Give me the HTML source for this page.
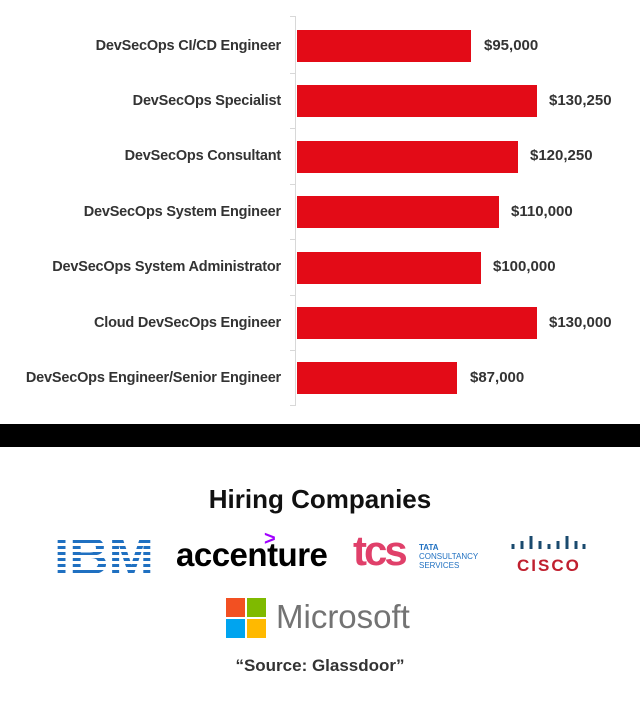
<!DOCTYPE html>
<html><head><style>
body{margin:0;width:640px;height:715px;background:#fff;font-family:"Liberation Sans",sans-serif;position:relative;overflow:hidden}
.a{position:absolute}
.lbl{position:absolute;right:359px;font-size:14.5px;color:#333;white-space:nowrap;font-weight:bold;letter-spacing:-0.2px}
.bar{position:absolute;left:297px;height:32px;background:#e30b17}
.val{position:absolute;font-size:15px;color:#333;font-weight:bold}
</style></head><body>
<div class="a" style="left:295px;top:16px;width:1px;height:390px;background:#d8d8d8"></div>
<div class="a" style="left:290px;top:16px;width:5px;height:1px;background:#d8d8d8"></div>
<div class="a" style="left:290px;top:73px;width:5px;height:1px;background:#d8d8d8"></div>
<div class="a" style="left:290px;top:128px;width:5px;height:1px;background:#d8d8d8"></div>
<div class="a" style="left:290px;top:184px;width:5px;height:1px;background:#d8d8d8"></div>
<div class="a" style="left:290px;top:239px;width:5px;height:1px;background:#d8d8d8"></div>
<div class="a" style="left:290px;top:295px;width:5px;height:1px;background:#d8d8d8"></div>
<div class="a" style="left:290px;top:350px;width:5px;height:1px;background:#d8d8d8"></div>
<div class="a" style="left:290px;top:405px;width:5px;height:1px;background:#d8d8d8"></div>

<div class="lbl" style="top:38px">DevSecOps CI/CD Engineer</div>
<div class="bar" style="top:30px;width:174px"></div><div class="val" style="left:484px;top:37px">$95,000</div>
<div class="lbl" style="top:93px">DevSecOps Specialist</div>
<div class="bar" style="top:85px;width:240px"></div><div class="val" style="left:549px;top:92px">$130,250</div>
<div class="lbl" style="top:148px">DevSecOps Consultant</div>
<div class="bar" style="top:141px;width:221px"></div><div class="val" style="left:530px;top:147px">$120,250</div>
<div class="lbl" style="top:204px">DevSecOps System Engineer</div>
<div class="bar" style="top:196px;width:202px"></div><div class="val" style="left:511px;top:203px">$110,000</div>
<div class="lbl" style="top:259px">DevSecOps System Administrator</div>
<div class="bar" style="top:252px;width:184px"></div><div class="val" style="left:493px;top:258px">$100,000</div>
<div class="lbl" style="top:315px">Cloud DevSecOps Engineer</div>
<div class="bar" style="top:307px;width:240px"></div><div class="val" style="left:549px;top:314px">$130,000</div>
<div class="lbl" style="top:370px">DevSecOps Engineer/Senior Engineer</div>
<div class="bar" style="top:362px;width:160px"></div><div class="val" style="left:470px;top:369px">$87,000</div>

<div class="a" style="left:0;top:424px;width:640px;height:23px;background:#000"></div>
<div class="a" style="left:0;top:484px;width:640px;text-align:center;font-size:26px;font-weight:bold;color:#111">Hiring Companies</div>

<svg class="a" style="left:53px;top:534px" width="102" height="42">
<text x="51" y="40" text-anchor="middle" font-size="52" font-weight="bold" fill="#1f70c1" font-family="Liberation Sans" textLength="100" lengthAdjust="spacingAndGlyphs">IBM</text>
<g fill="#fff">
<rect x="0" y="3" width="102" height="3"/><rect x="0" y="9" width="102" height="3"/><rect x="0" y="15" width="102" height="3"/><rect x="0" y="21" width="102" height="3"/><rect x="0" y="27" width="102" height="3"/><rect x="0" y="33" width="102" height="3"/><rect x="0" y="39" width="102" height="3"/>
</g>
</svg>
<div class="a" style="left:176px;top:536px;font-size:33px;font-weight:bold;color:#000;letter-spacing:-0.5px">accenture</div>
<div class="a" style="left:264px;top:528px;font-size:20px;font-weight:bold;color:#a100ff">&gt;</div>
<div class="a" style="left:353px;top:527px;font-size:42px;color:#e0406a;letter-spacing:-3px;font-weight:bold">tcs</div>
<div class="a" style="left:419px;top:543px;font-size:8px;color:#1f70c1;line-height:9px"><b>TATA</b><br>CONSULTANCY<br>SERVICES</div>
<svg class="a" style="left:510px;top:536px" width="76" height="16"><g stroke="#1a4a6e" stroke-width="3">
<line x1="3" y1="8" x2="3" y2="13"/><line x1="12" y1="5" x2="12" y2="13"/><line x1="21" y1="0" x2="21" y2="13"/><line x1="30" y1="5" x2="30" y2="13"/><line x1="39" y1="8" x2="39" y2="13"/><line x1="48" y1="5" x2="48" y2="13"/><line x1="57" y1="0" x2="57" y2="13"/><line x1="66" y1="5" x2="66" y2="13"/><line x1="74" y1="8" x2="74" y2="13"/></g></svg>
<div class="a" style="left:517px;top:556px;font-size:17px;font-weight:bold;color:#c0202f;letter-spacing:2px">CISCO</div>

<div class="a" style="left:226px;top:598px;width:19px;height:19px;background:#f25022"></div>
<div class="a" style="left:247px;top:598px;width:19px;height:19px;background:#7fba00"></div>
<div class="a" style="left:226px;top:619px;width:19px;height:19px;background:#00a4ef"></div>
<div class="a" style="left:247px;top:619px;width:19px;height:19px;background:#ffb900"></div>
<div class="a" style="left:276px;top:598px;font-size:33px;color:#737373">Microsoft</div>
<div class="a" style="left:0;top:656px;width:640px;text-align:center;font-size:17px;font-weight:bold;color:#333">“Source: Glassdoor”</div>
</body></html>
